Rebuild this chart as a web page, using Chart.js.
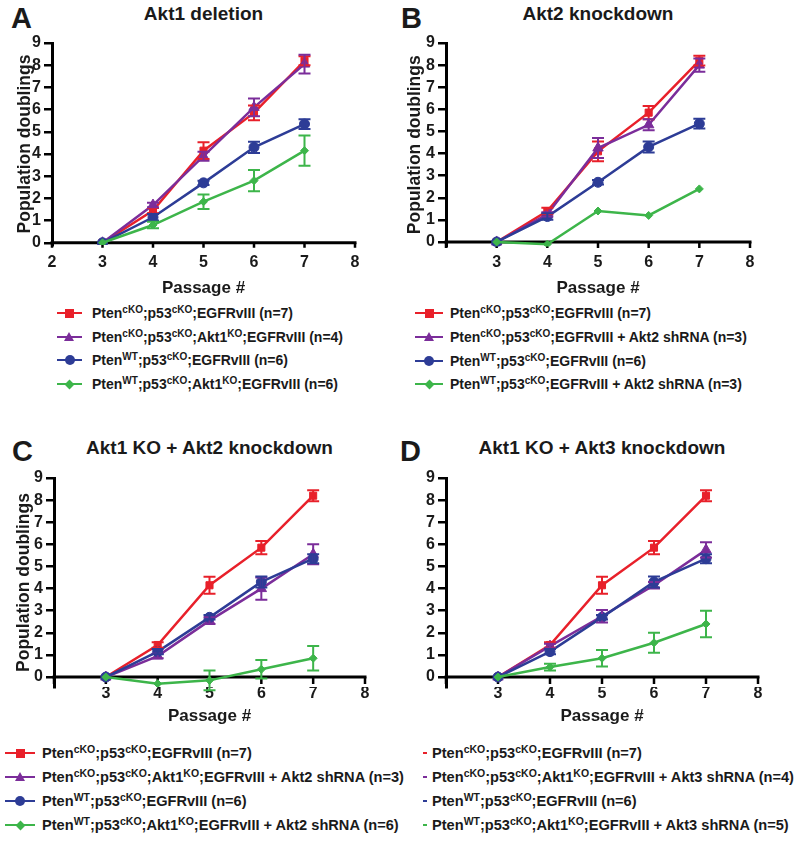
<!DOCTYPE html>
<html>
<head>
<meta charset="utf-8">
<script src="https://cdn.jsdelivr.net/npm/chart.js@4.4.1/dist/chart.umd.min.js"></script>
<style>
  body { margin: 0; background: #fff; }
  #page { position: relative; width: 800px; height: 846px; overflow: hidden;
          font-family: "Liberation Sans", Arial, sans-serif; font-weight: bold; color: #1a1a1a; }
  canvas { position: absolute; }
  .letter { position: absolute; font-size: 29px; line-height: 1; }
  .title { position: absolute; font-size: 19px; line-height: 1; text-align: center; white-space: nowrap; }
  .leg { position: absolute; height: 20px; line-height: 20px; font-size: 14px; white-space: nowrap; }
  .leg sup { font-size: 10px; vertical-align: 5px; line-height: 0; }
  .big .leg { font-size: 14.6px; }
  .big .leg sup { font-size: 10.5px; }
  .mk { position: absolute; }
</style>
</head>
<body>
<div id="page">
  <div class="letter" style="left:11px; top:4px;">A</div>
  <div class="letter" style="left:401px; top:4px;">B</div>
  <div class="letter" style="left:12px; top:437px;">C</div>
  <div class="letter" style="left:400px; top:437px;">D</div>

  <div class="title" style="left:52px; width:303px; top:4px;">Akt1 deletion</div>
  <div class="title" style="left:446px; width:304px; top:4px;">Akt2 knockdown</div>
  <div class="title" style="left:54px; width:311px; top:438px;">Akt1 KO + Akt2 knockdown</div>
  <div class="title" style="left:446px; width:312px; top:438px;">Akt1 KO + Akt3 knockdown</div>

  <canvas id="chartA" width="400" height="300" style="left:0; top:0;"></canvas>
  <canvas id="chartB" width="400" height="300" style="left:400px; top:0;"></canvas>
  <canvas id="chartC" width="400" height="320" style="left:0; top:410px;"></canvas>
  <canvas id="chartD" width="400" height="320" style="left:400px; top:410px;"></canvas>
  <div id="legTop"></div>
  <div id="legBottom" class="big"></div>
</div>

<script>
const red = '#E8202A';
const purple = '#7B2D9A';
const blue = '#2D3C96';
const green = '#3DB54A';

const passages = [3, 4, 5, 6, 7];
const xTicksA = ['2', '3', '4', '5', '6', '7', '8'];
const xTicksOther = ['', '3', '4', '5', '6', '7', '8'];

// A - Akt1 deletion
const aCko = [0, 1.45, 4.15, 5.85, 8.2];
const aCkoErr = [0, 0.12, 0.38, 0.33, 0.2];
const aCkoAkt1 = [0, 1.7, 3.9, 6.1, 8.05];
const aCkoAkt1Err = [0, 0.1, 0.2, 0.4, 0.42];
const aWt = [0, 1.15, 2.7, 4.3, 5.35];
const aWtErr = [0, 0.15, 0.1, 0.25, 0.22];
const aWtAkt1 = [0, 0.8, 1.85, 2.8, 4.15];
const aWtAkt1Err = [0, 0.15, 0.33, 0.48, 0.68];

// B - Akt2 knockdown
const bCko = [0, 1.4, 4.1, 5.85, 8.2];
const bCkoErr = [0, 0.15, 0.45, 0.3, 0.22];
const bCkoAkt2 = [0, 1.25, 4.25, 5.3, 8.0];
const bCkoAkt2Err = [0, 0.1, 0.45, 0.25, 0.3];
const bWt = [0, 1.15, 2.7, 4.3, 5.35];
const bWtErr = [0, 0.15, 0.1, 0.25, 0.22];
const bWtAkt2 = [0, -0.1, 1.4, 1.2, 2.4];
const bWtAkt2Err = [0, 0, 0, 0, 0];

// C - Akt1 KO + Akt2 knockdown
const cCko = [0, 1.45, 4.15, 5.85, 8.2];
const cCkoErr = [0, 0.12, 0.38, 0.3, 0.25];
const cCkoAkt = [0, 0.95, 2.55, 4.0, 5.55];
const cCkoAktErr = [0, 0.1, 0.15, 0.5, 0.45];
const cWt = [0, 1.15, 2.7, 4.3, 5.35];
const cWtErr = [0, 0.12, 0.1, 0.25, 0.2];
const cWtAkt = [0, -0.3, -0.15, 0.35, 0.85];
const cWtAktErr = [0, 0, 0.45, 0.42, 0.55];

// D - Akt1 KO + Akt3 knockdown
const dCko = [0, 1.45, 4.15, 5.85, 8.2];
const dCkoErr = [0, 0.12, 0.38, 0.3, 0.25];
const dCkoAkt = [0, 1.4, 2.75, 4.15, 5.75];
const dCkoAktErr = [0, 0.1, 0.28, 0.15, 0.35];
const dWt = [0, 1.15, 2.7, 4.3, 5.35];
const dWtErr = [0, 0.12, 0.1, 0.25, 0.2];
const dWtAkt = [0, 0.45, 0.85, 1.55, 2.4];
const dWtAktErr = [0, 0.15, 0.37, 0.45, 0.6];

const legendA = [
  'Pten<sup>cKO</sup>;p53<sup>cKO</sup>;EGFRvIII (n=7)',
  'Pten<sup>cKO</sup>;p53<sup>cKO</sup>;Akt1<sup>KO</sup>;EGFRvIII (n=4)',
  'Pten<sup>WT</sup>;p53<sup>cKO</sup>;EGFRvIII (n=6)',
  'Pten<sup>WT</sup>;p53<sup>cKO</sup>;Akt1<sup>KO</sup>;EGFRvIII (n=6)'
];
const legendB = [
  'Pten<sup>cKO</sup>;p53<sup>cKO</sup>;EGFRvIII (n=7)',
  'Pten<sup>cKO</sup>;p53<sup>cKO</sup>;EGFRvIII + Akt2 shRNA (n=3)',
  'Pten<sup>WT</sup>;p53<sup>cKO</sup>;EGFRvIII (n=6)',
  'Pten<sup>WT</sup>;p53<sup>cKO</sup>;EGFRvIII + Akt2 shRNA (n=3)'
];
const legendC = [
  'Pten<sup>cKO</sup>;p53<sup>cKO</sup>;EGFRvIII (n=7)',
  'Pten<sup>cKO</sup>;p53<sup>cKO</sup>;Akt1<sup>KO</sup>;EGFRvIII + Akt2 shRNA (n=3)',
  'Pten<sup>WT</sup>;p53<sup>cKO</sup>;EGFRvIII (n=6)',
  'Pten<sup>WT</sup>;p53<sup>cKO</sup>;Akt1<sup>KO</sup>;EGFRvIII + Akt2 shRNA (n=6)'
];
const legendD = [
  'Pten<sup>cKO</sup>;p53<sup>cKO</sup>;EGFRvIII (n=7)',
  'Pten<sup>cKO</sup>;p53<sup>cKO</sup>;Akt1<sup>KO</sup>;EGFRvIII + Akt3 shRNA (n=4)',
  'Pten<sup>WT</sup>;p53<sup>cKO</sup>;EGFRvIII (n=6)',
  'Pten<sup>WT</sup>;p53<sup>cKO</sup>;Akt1<sup>KO</sup>;EGFRvIII + Akt3 shRNA (n=5)'
];

const colors = [red, purple, blue, green];
const shapes = ['rect', 'triangle', 'circle', 'rectRot'];
const radii = [5, 6, 5, 4];

// error bars (SEM), drawn from the scales
const errorBars = {
  id: 'errorBars',
  afterDatasetsDraw(chart) {
    const ctx = chart.ctx;
    const xs = chart.scales.x, ys = chart.scales.y;
    chart.data.datasets.forEach(ds => {
      ctx.save();
      ctx.strokeStyle = ds.borderColor;
      ctx.lineWidth = 2;
      ds.data.forEach((pt, j) => {
        const e = ds.errors[j];
        if (!e) return;
        const px = xs.getPixelForValue(pt.x);
        const top = ys.getPixelForValue(pt.y + e);
        const bot = ys.getPixelForValue(pt.y - e);
        ctx.beginPath();
        ctx.moveTo(px, top); ctx.lineTo(px, bot);
        ctx.moveTo(px - 6, top); ctx.lineTo(px + 6, top);
        ctx.moveTo(px - 6, bot); ctx.lineTo(px + 6, bot);
        ctx.stroke();
      });
      ctx.restore();
    });
  }
};

// x axis crossing at y = 0, with ticks hanging down
const zeroAxis = {
  id: 'zeroAxis',
  beforeDatasetsDraw(chart, args, opts) {
    const {ctx, chartArea} = chart;
    const xs = chart.scales.x, ys = chart.scales.y;
    const y0 = ys.getPixelForValue(0);
    ctx.save();
    ctx.strokeStyle = '#000';
    ctx.lineWidth = 3;
    ctx.beginPath();
    ctx.moveTo(chartArea.left - 1.5, y0);
    ctx.lineTo(chartArea.right + 1.5, y0);
    ctx.stroke();
    ctx.lineWidth = 2.5;
    ctx.beginPath();
    xs.ticks.forEach(t => {
      const px = xs.getPixelForValue(t.value);
      ctx.moveTo(px, y0);
      ctx.lineTo(px, y0 + opts.tickLength);
    });
    ctx.stroke();
    ctx.restore();
  }
};

function painel(id, series, errs, cfg) {
  const ctx = document.getElementById(id);
  new Chart(ctx, {
    type: 'line',
    data: {
      datasets: series.map((vals, i) => ({
        data: passages.map((p, j) => ({x: p, y: vals[j]})),
        errors: errs[i],
        borderColor: colors[i],
        backgroundColor: colors[i],
        borderWidth: 2.5,
        pointStyle: shapes[i],
        pointRadius: radii[i],
        pointBorderWidth: 1,
        order: 4 - i,
        tension: 0
      }))
    },
    options: {
      responsive: false,
      animation: false,
      events: [],
      layout: {
        autoPadding: false,
        padding: {left: 0, top: cfg.top, right: cfg.right, bottom: 0}
      },
      scales: {
        x: {
          type: 'linear',
          min: 2,
          max: 8,
          afterFit: s => { s.height = cfg.height - cfg.bottom; },
          grid: {display: false, drawTicks: false},
          border: {display: false},
          ticks: {
            stepSize: 1,
            padding: cfg.xPad,
            color: '#1a1a1a',
            font: {family: 'Liberation Sans', weight: 'bold', size: 16},
            callback: (v, i) => cfg.xLabels[i]
          },
          title: {
            display: true,
            text: 'Passage #',
            color: '#1a1a1a',
            font: {family: 'Liberation Sans', weight: 'bold', size: 17},
            padding: {top: 0, bottom: cfg.xTitlePad}
          }
        },
        y: {
          min: cfg.yMin,
          max: 9,
          afterFit: s => { s.width = cfg.left; },
          grid: {drawOnChartArea: false, drawTicks: true, tickLength: 8, color: '#000', lineWidth: 2.5},
          border: {display: true, color: '#000', width: 3},
          ticks: {
            stepSize: 1,
            includeBounds: false,
            padding: 3,
            color: '#1a1a1a',
            font: {family: 'Liberation Sans', weight: 'bold', size: 16}
          },
          title: {
            display: cfg.yTitle,
            text: 'Population doublings',
            color: '#1a1a1a',
            font: {family: 'Liberation Sans', weight: 'bold', size: 17.5},
            padding: {top: cfg.yTitlePad, bottom: 0}
          }
        }
      },
      plugins: {
        legend: {display: false},
        tooltip: {enabled: false},
        zeroAxis: {tickLength: cfg.tick}
      }
    },
    plugins: [zeroAxis, errorBars]
  });
}

painel('chartA', [aCko, aCkoAkt1, aWt, aWtAkt1], [aCkoErr, aCkoAkt1Err, aWtErr, aWtAkt1Err],
  {left: 52, right: 45, top: 43, bottom: 245, height: 300, yMin: -0.1, xPad: 8, xTitlePad: 1,
   yTitle: true, yTitlePad: 15, tick: 5, xLabels: xTicksA});
painel('chartB', [bCko, bCkoAkt2, bWt, bWtAkt2], [bCkoErr, bCkoAkt2Err, bWtErr, bWtAkt2Err],
  {left: 46, right: 50, top: 43, bottom: 246.4, height: 300, yMin: -0.2, xPad: 7, xTitlePad: 1,
   yTitle: true, yTitlePad: 5, tick: 6, xLabels: xTicksOther});
painel('chartC', [cCko, cCkoAkt, cWt, cWtAkt], [cCkoErr, cCkoAktErr, cWtErr, cWtAktErr],
  {left: 54, right: 35, top: 68, bottom: 277, height: 320, yMin: -0.45, xPad: -3, xTitlePad: 3,
   yTitle: true, yTitlePad: 14, tick: 7, xLabels: xTicksOther});
painel('chartD', [dCko, dCkoAkt, dWt, dWtAkt], [dCkoErr, dCkoAktErr, dWtErr, dWtAktErr],
  {left: 46, right: 42, top: 68, bottom: 277, height: 320, yMin: -0.45, xPad: -3, xTitlePad: 3,
   yTitle: false, yTitlePad: 0, tick: 7, xLabels: xTicksOther});

// html legends (superscripts)
function marker(box, shape, color, cx, cy) {
  const m = document.createElement('div');
  m.className = 'mk';
  if (shape === 'rect') {
    Object.assign(m.style, {left: (cx - 4.5) + 'px', top: (cy - 4.5) + 'px', width: '9px', height: '9px', background: color});
  } else if (shape === 'circle') {
    Object.assign(m.style, {left: (cx - 5) + 'px', top: (cy - 5) + 'px', width: '10px', height: '10px', background: color, borderRadius: '50%'});
  } else if (shape === 'triangle') {
    Object.assign(m.style, {left: (cx - 5.5) + 'px', top: (cy - 5.5) + 'px', width: '0', height: '0',
      borderLeft: '5.5px solid transparent', borderRight: '5.5px solid transparent', borderBottom: '9px solid ' + color});
  } else {
    Object.assign(m.style, {left: (cx - 3.5) + 'px', top: (cy - 3.5) + 'px', width: '7px', height: '7px', background: color, transform: 'rotate(45deg)'});
  }
  box.appendChild(m);
}

function legenda(boxId, labels, rows, lineX0, lineX1, textX, withMarker) {
  const box = document.getElementById(boxId);
  labels.forEach((txt, i) => {
    const cy = rows[i];
    const ln = document.createElement('div');
    ln.className = 'mk';
    Object.assign(ln.style, {left: lineX0 + 'px', top: (cy - 1.25) + 'px', width: (lineX1 - lineX0) + 'px', height: '2.5px', background: colors[i]});
    box.appendChild(ln);
    if (withMarker) marker(box, shapes[i], colors[i], (lineX0 + lineX1) / 2, cy);
    const t = document.createElement('div');
    t.className = 'leg';
    t.style.left = textX + 'px';
    t.style.top = (cy - 10) + 'px';
    t.innerHTML = txt;
    box.appendChild(t);
  });
}

legenda('legTop', legendA, [313, 337, 360, 384], 57, 82, 92, true);
legenda('legTop', legendB, [313, 337, 361, 384], 415, 443, 450, true);
legenda('legBottom', legendC, [753, 777, 801, 825], 5, 35, 42, true);
legenda('legBottom', legendD, [753, 777, 801, 825], 423, 427, 432, false);
</script>
</body>
</html>
